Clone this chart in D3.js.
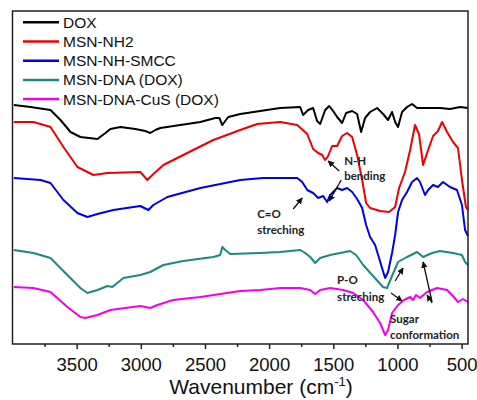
<!DOCTYPE html>
<html>
<head>
<meta charset="utf-8">
<script src="https://cdn.jsdelivr.net/npm/d3@7"></script>
<style>
  body { margin: 0; background: #fff; }
  svg { display: block; }
  .tick text { font-family: "Liberation Sans", Arial, sans-serif; }
</style>
</head>
<body>
<div id="chart"></div>
<script>
// FTIR spectra, [wavenumber cm-1, transmittance a.u.]
var dox = [[3990,239],[3860,237],[3704,234],[3626,224],[3548,212],[3471,207],[3338,205],[3276,211],[3237,215],[3159,217],[3043,215],[2965,213],[2926,211],[2887,214],[2848,216],[2692,219],[2536,222],[2420,226],[2388,226],[2365,219],[2342,223],[2318,227],[2225,230],[2069,233],[1914,236],[1758,237],[1735,229],[1696,234],[1657,236],[1626,223],[1602,220],[1563,234],[1532,238],[1501,233],[1470,227],[1431,221],[1400,231],[1353,233],[1314,230],[1283,212],[1252,226],[1213,232],[1158,236],[1112,230],[1073,224],[1042,232],[1018,222],[995,217],[964,232],[925,237],[886,240],[847,236],[800,236],[746,236],[668,236],[590,235],[512,237],[450,236]];
var msnNH2 = [[3990,222],[3837,222],[3704,217],[3603,197],[3494,177],[3369,169],[3260,171],[3004,172],[2949,164],[2902,170],[2824,179],[2669,189],[2435,204],[2225,214],[2093,220],[1914,222],[1781,219],[1703,210],[1657,195],[1618,191],[1587,189],[1563,184],[1540,188],[1509,198],[1470,198],[1431,208],[1392,211],[1353,207],[1314,189],[1275,164],[1244,141],[1213,136],[1135,133],[1065,132],[1018,137],[987,156],[941,172],[901,194],[863,219],[832,210],[800,179],[761,194],[722,208],[684,213],[652,222],[613,212],[567,202],[528,196],[497,164],[466,137],[450,134]];
var msnSMCC = [[3990,166],[3782,164],[3704,161],[3603,144],[3494,131],[3416,127],[3338,130],[3214,134],[3004,138],[2941,134],[2902,139],[2793,147],[2536,156],[2225,164],[2046,166],[1781,166],[1742,162],[1703,154],[1657,151],[1618,146],[1579,148],[1548,142],[1524,149],[1470,156],[1431,154],[1392,156],[1353,152],[1314,145],[1275,136],[1244,119],[1213,107],[1174,99],[1143,86],[1120,76],[1096,66],[1073,72],[1042,91],[1018,109],[995,132],[964,144],[925,152],[886,162],[847,166],[824,162],[785,149],[761,154],[722,159],[684,157],[645,162],[590,157],[536,154],[497,139],[473,114],[450,108]];
var msnDNA = [[3990,94],[3837,91],[3704,86],[3572,69],[3471,56],[3416,51],[3338,54],[3260,58],[3222,57],[3136,66],[3004,69],[2926,72],[2824,79],[2669,83],[2435,87],[2381,89],[2365,97],[2342,94],[2303,90],[2069,91],[1914,92],[1758,94],[1719,91],[1680,87],[1641,81],[1602,86],[1524,89],[1446,91],[1369,93],[1322,89],[1267,79],[1190,68],[1112,57],[1081,56],[1042,68],[995,82],[925,87],[847,92],[800,87],[730,91],[668,93],[567,91],[497,89],[473,82],[450,79]];
var msnCuS = [[3990,57],[3837,56],[3704,52],[3572,37],[3471,27],[3432,26],[3338,29],[3237,34],[3004,38],[2926,36],[2871,39],[2747,44],[2536,47],[2225,53],[2069,54],[1914,56],[1758,56],[1680,54],[1641,50],[1602,54],[1524,56],[1423,54],[1345,51],[1267,44],[1190,32],[1135,21],[1096,9],[1073,14],[1042,31],[995,39],[948,44],[901,47],[878,44],[855,49],[824,46],[769,52],[691,56],[613,54],[567,48],[528,42],[489,45],[450,42]];

var seriesNames = ["DOX", "MSN-NH2", "MSN-NH-SMCC", "MSN-DNA (DOX)", "MSN-DNA-CuS (DOX)"];
var seriesColors = ["#000000", "#ee0000", "#0000e6", "#1a8a80", "#f000f0"];
var seriesData = [dox, msnNH2, msnSMCC, msnDNA, msnCuS];

var majorTicks = [3500, 3000, 2500, 2000, 1500, 1000, 500];
var minorTicks = [3750, 3250, 2750, 2250, 1750, 1250, 750];

// annotation labels: [wavenumber, a.u.] of the first char, one entry per line
var labels = [
  ["N-H", 1415, 183], ["bending", 1415, 168],
  ["C=O", 2093, 130], ["streching", 2093, 114],
  ["P-O", 1470, 64], ["streching", 1470, 47],
  ["Sugar", 1057, 25], ["conformation", 1057, 9]
];
// arrows: tail then head
var arrows = [
  [1454, 173, 1540, 183],
  [1438, 164, 1532, 143],
  [1812, 135, 1742, 146],
  [1018, 63, 956, 76],
  [1050, 51, 964, 43],
  [730, 42, 800, 82],
  [730, 41, 769, 49]
];

var W = 477, H = 400;
var mLeft = 12.5, mRight = 468, mTop = 11, mBottom = 344;

var svg = d3.select("#chart").append("svg")
    .attr("width", W)
    .attr("height", H);

var x = d3.scaleLinear().domain([4000, 450]).range([mLeft, mRight]);
var y = d3.scaleLinear().domain([0, 333]).range([mBottom, mTop]);

var defs = svg.append("defs");
defs.append("marker")
    .attr("id", "head")
    .attr("viewBox", "0 0 10 10")
    .attr("refX", 9).attr("refY", 5)
    .attr("markerWidth", 5).attr("markerHeight", 5)
    .attr("orient", "auto")
  .append("path")
    .attr("d", "M0,0 L10,5 L0,10 z")
    .attr("fill", "#111");

var line = d3.line()
    .x(function (d) { return x(d[0]); })
    .y(function (d) { return y(d[1]); });

//Draw the spectra
svg.append("g")
    .selectAll("path")
    .data(seriesData)
    .enter().append("path")
    .attr("d", line)
    .attr("fill", "none")
    .attr("stroke", function (d, i) { return seriesColors[i]; })
    .attr("stroke-width", 2)
    .attr("stroke-linejoin", "round");

//Frame
svg.append("rect")
    .attr("x", mLeft).attr("y", mTop)
    .attr("width", mRight - mLeft).attr("height", mBottom - mTop)
    .attr("fill", "none")
    .attr("stroke", "#222")
    .attr("stroke-width", 1.5);

//Bottom axis
var axis = d3.axisBottom(x)
    .tickValues(majorTicks)
    .tickFormat(d3.format("d"))
    .tickSize(5)
    .tickPadding(9);
var gx = svg.append("g")
    .attr("transform", "translate(0," + mBottom + ")")
    .call(axis);
gx.select(".domain").remove();
gx.selectAll(".tick line").attr("stroke", "#222").attr("stroke-width", 1.5);
gx.selectAll(".tick text")
    .attr("fill", "#111")
    .style("font-size", "18.5px");

svg.append("g")
    .attr("transform", "translate(0," + mBottom + ")")
    .call(d3.axisBottom(x).tickValues(minorTicks).tickSize(3).tickFormat(""))
    .call(function (g) { g.select(".domain").remove(); })
    .selectAll(".tick line").attr("stroke", "#222").attr("stroke-width", 1.5);

var title = svg.append("text")
    .attr("x", 261).attr("y", 394)
    .attr("text-anchor", "middle")
    .attr("fill", "#111")
    .style("font-family", "Liberation Sans, Arial, sans-serif")
    .style("font-size", "21px");
title.append("tspan").text("Wavenumber (cm");
title.append("tspan").attr("dy", -8).style("font-size", "13px").text("-1");
title.append("tspan").attr("dy", 8).text(")");

//Legend
var legend = svg.append("g")
    .selectAll("g")
    .data(seriesNames)
    .enter().append("g")
    .attr("transform", function (d, i) { return "translate(23," + (22.3 + i * 19.2) + ")"; });
legend.append("line")
    .attr("x1", 0).attr("x2", 36)
    .attr("stroke", function (d, i) { return seriesColors[i]; })
    .attr("stroke-width", 2.5);
legend.append("text")
    .attr("x", 40)
    .attr("dy", "0.36em")
    .attr("fill", "#111")
    .style("font-family", "Liberation Sans, Arial, sans-serif")
    .style("font-size", "15.5px")
    .text(function (d) { return d; });

//Annotations
svg.append("g")
    .selectAll("text")
    .data(labels)
    .enter().append("text")
    .attr("x", function (d) { return x(d[1]); })
    .attr("y", function (d) { return y(d[2]); })
    .attr("dy", "0.35em")
    .attr("fill", "#222")
    .style("font-family", "Lato, sans-serif")
    .style("font-weight", "bold")
    .style("font-size", "11.5px")
    .text(function (d) { return d[0]; });

svg.append("g")
    .selectAll("line")
    .data(arrows)
    .enter().append("line")
    .attr("x1", function (d) { return x(d[0]); })
    .attr("y1", function (d) { return y(d[1]); })
    .attr("x2", function (d) { return x(d[2]); })
    .attr("y2", function (d) { return y(d[3]); })
    .attr("stroke", "#111")
    .attr("stroke-width", 1.3)
    .attr("marker-end", "url(#head)");
</script>
</body>
</html>
